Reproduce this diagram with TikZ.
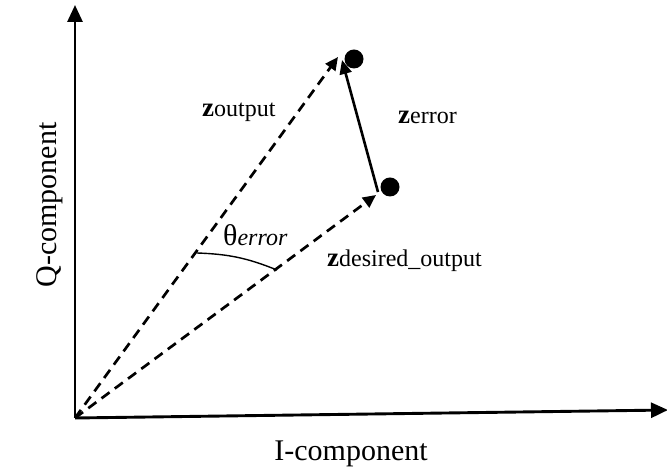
\documentclass[tikz,border=0pt]{standalone}
\usepackage{fontspec}
\setmainfont{Liberation Serif}
\usetikzlibrary{arrows.meta}
\tikzset{
  axis/.style={line width=2.9pt,-{Triangle[length=17pt,width=15pt]}},
  vec/.style={line width=2.7pt,dash pattern=on 10pt off 6.5pt,-{Triangle[length=13pt,width=12pt]}},
  errvec/.style={line width=2.6pt,-{Triangle[length=14pt,width=12pt]}},
  dot/.style={circle,fill=black,inner sep=0pt,minimum size=19pt},
  lbl/.style={anchor=base west,inner sep=0pt},
}
\newcommand{\zlab}[1]{{\fontsize{27}{32}\selectfont\bfseries z}{\fontsize{24}{28}\selectfont #1}}
\begin{document}
\begin{tikzpicture}[x=1pt,y=1pt]
\useasboundingbox (0,0) rectangle (667,468);
\coordinate (O) at (75,50);
\coordinate (ytip) at (75,463);
\coordinate (xtip) at (668,58);
\draw[axis] (O) -- (ytip);
\draw[axis] (O) -- (xtip);
\node[dot] (d1) at (354,409) {};
\node[dot] (d2) at (390,281) {};
\coordinate (t1) at (338,411);
\coordinate (t2) at (376,273);
\coordinate (e0) at (378,276);
\coordinate (e1) at (342,408);
\draw[vec] (O) -- (t1);
\draw[vec] (O) -- (t2);
\draw[errvec] (e0) -- (e1);
\coordinate (a1) at (197,215);
\coordinate (a2) at (277,198);
\draw[line width=1.4pt] (a1) to[bend left=10] (a2);
\node[lbl] (lo) at (202,351) {\zlab{output}};
\node[lbl] (le) at (398,344) {\zlab{error}};
\node[lbl] (ld) at (327,201) {\zlab{desired\_output}};
\node[lbl] (lt) at (223,222) {{\fontsize{30}{34}\selectfont θ}{\fontsize{24}{28}\selectfont\itshape error}};
\node[anchor=base,inner sep=0pt] (li) at (351,7) {\fontsize{30}{36}\selectfont I-component};
\node[anchor=base,inner sep=0pt,rotate=90] (lq) at (56,263) {\fontsize{30}{36}\selectfont Q-component};
\end{tikzpicture}
\end{document}
